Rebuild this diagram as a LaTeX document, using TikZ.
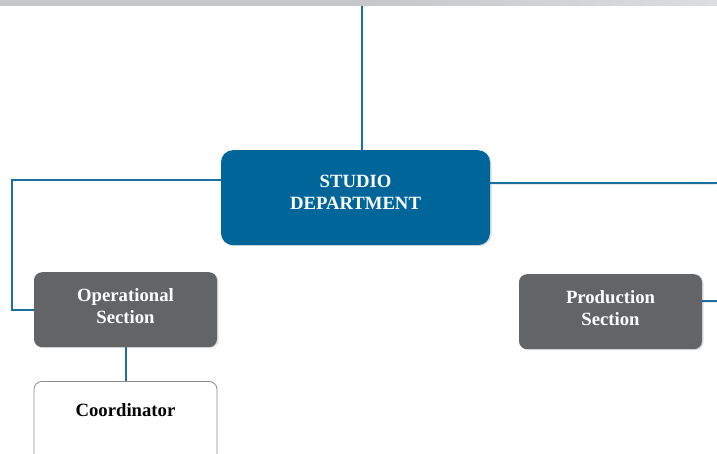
\documentclass[tikz,border=0pt]{standalone}
\usepackage{fontspec}
\setmainfont{Liberation Serif}
\usetikzlibrary{shadows}
\definecolor{mainblue}{HTML}{006699}
\definecolor{secgray}{HTML}{636466}
\definecolor{linkblue}{HTML}{1B6F9E}
\definecolor{barg}{HTML}{C6C7C9}
\definecolor{barl}{HTML}{DCDDDF}
\definecolor{borderg}{HTML}{8A8A8A}
\begin{document}
\begin{tikzpicture}[x=1pt,y=-1pt,
  boxtext/.style={font=\fontsize{18.7}{22}\selectfont\bfseries, align=center},
  mainbox/.style={boxtext, fill=mainblue, text=white, rounded corners=12pt,
    minimum width=269pt, inner xsep=0pt, inner ysep=0pt,
    text height=59pt, text depth=36pt,
    drop shadow={shadow xshift=1.5pt, shadow yshift=-1pt, opacity=0.25}},
  secbox/.style={boxtext, fill=secgray, text=white, rounded corners=8pt,
    minimum width=183pt, inner xsep=0pt, inner ysep=0pt,
    text height=51.5pt, text depth=23.5pt,
    drop shadow={shadow xshift=1.5pt, shadow yshift=-1pt, opacity=0.25}},
  subbox/.style={boxtext, draw=borderg, line width=0.8pt, fill=white, text=black,
    rounded corners=8pt, minimum width=183pt, inner xsep=0pt, inner ysep=0pt,
    text height=35pt, text depth=54pt},
  conn/.style={draw=linkblue, line width=2pt}
]
\useasboundingbox (0,0) rectangle (717,454);
\shade[left color=barg, right color=barl, middle color=barg] (0,0) rectangle (717,6);

\node[mainbox, anchor=north] (main) at (355.5,150) {STUDIO\\DEPARTMENT};
\node[secbox, anchor=north] (op) at (125.5,272) {Operational\\Section};
\node[secbox, anchor=north] (prod) at (610.5,274) {Production\\Section};
\node[subbox, anchor=north] (coord) at (125.5,381) {Coordinator};

\coordinate (top) at (362,6);
\coordinate (redge1) at (717,183);
\coordinate (redge2) at (717,301);

\draw[conn] (top) -- (top |- main.north);
\draw[conn] ([yshift=17.5pt]main.west) -- ++(-209,0) |- (op.west);
\draw[conn] ([yshift=14.5pt]main.east) -- (redge1);
\draw[conn] ([yshift=10.5pt]prod.east) -- (redge2);
\draw[conn] (op.south) -- (coord.north);
\end{tikzpicture}
\end{document}
